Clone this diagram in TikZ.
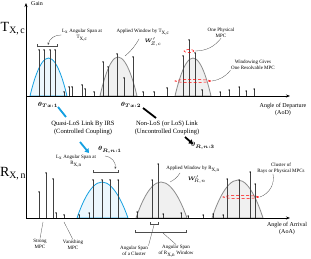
\documentclass[tikz,border=0pt]{standalone}
\usepackage{fontspec}
\setmainfont{Liberation Serif}
\usepackage{amsmath,bm}
\usetikzlibrary{arrows.meta}
\definecolor{irsblue}{RGB}{20,160,225}

\begin{document}
\begin{tikzpicture}[x=1pt, y=-1pt,
      axis/.style={-{Stealth[length=4pt,width=3pt]}, line width=0.8pt},
      bluewin/.style={draw=irsblue, line width=0.8pt, fill=irsblue!8},
      graywin/.style={draw=black!45, line width=0.8pt, fill=black!6},
      mpc/.style={draw=black!75, line width=0.6pt},
      span/.style={{Bar[width=3pt]}-{Bar[width=3pt]}, line width=0.4pt, black!70},
      resolv/.style={red, densely dashed, line width=0.5pt},
      note/.style={line width=0.3pt, black!70},
      notearr/.style={note, -{Stealth[length=2.5pt,width=2pt]}},
      link/.style={line width=1.8pt},
      linkarr/.style={link, -{Triangle[length=4pt,width=5pt]}},
      tiny/.style={font=\fontsize{5}{5.8}\selectfont, align=center, inner sep=0.5pt},
      mid/.style={font=\fontsize{6.5}{7.8}\selectfont, align=center, inner sep=0.5pt},
      axlbl/.style={font=\fontsize{6}{7}\selectfont, align=center, inner sep=0.5pt},
      big/.style={font=\fontsize{14}{14}\selectfont, inner sep=0pt}
    ]
    \useasboundingbox (0,0) rectangle (311,259);

    % Windows (filled parabolas), drawn first so stems sit on top.
    \path[bluewin] (30,96)  parabola bend (48.5,58) (67,96)  -- cycle;
    \path[graywin] (100,96) parabola bend (118,57)  (137,96) -- cycle;
    \path[graywin] (175,96) parabola bend (193,58)  (211,96) -- cycle;
    \path[bluewin] (77,218)  parabola bend (102,182) (128,218) -- cycle;
    \path[graywin] (136,218) parabola bend (161,182) (187,218) -- cycle;
    \path[graywin] (212,218) parabola bend (238,180) (263,218) -- cycle;

    % MPC stems at Tx and Rx.
    \foreach \x/\t in {39/50, 44/50, 50/50, 55/50, 64/92, 69/87, 72/87, 82/85,
        85/89, 94/92, 103/62, 108/67, 117/54, 124/78, 133/57, 143/92, 154/92,
        167/88, 183/56, 189/40, 195/53, 202/90, 220/92, 229/90, 239/87,
        246/91, 254/89} {
      \draw[mpc] (\x,96) -- (\x,\t);
      \fill (\x,\t) circle (0.75pt);
    }
    \foreach \x/\t in {39/192, 46/173, 53/179, 56/213, 64/215, 79/215, 89/213,
        93/180, 102/180, 110/180, 118/180, 137/212, 152/180, 158/164, 163/214,
        181/213, 188/216, 203/215, 213/214, 223/215, 227/179, 239/180,
        250/172, 255/184} {
      \draw[mpc] (\x,218) -- (\x,\t);
      \fill (\x,\t) circle (0.75pt);
    }

    % Resolvable MPC marks.
    \draw[resolv] (189,51) ellipse (5pt and 1.5pt);
    \draw[resolv] (193,81) ellipse (18pt and 1.5pt);
    \draw[resolv] (241,197) ellipse (18pt and 1.5pt);

    % Axes.
    \coordinate (O)  at (26,218);
    \coordinate (Gt) at (26,3);
    \coordinate (Tz) at (26,96);
    \coordinate (Te) at (290,96);
    \coordinate (Re) at (290,218);
    \draw[axis] (O) -- (Gt);
    \draw[axis] (Tz) -- (Te);
    \draw[axis] (O) -- (Re);
    \node[axlbl] (gain) at (37,4) {Gain};
    \node[axlbl] (aod) at (283,110) {Angle of Departure\\(AoD)};
    \node[axlbl] (aoa) at (287,229) {Angle of Arrival\\(AoA)};
    \node[big] (tx) at (13,29) {T\textsubscript{X,\,c}};
    \node[big] (rx) at (13,174) {R\textsubscript{X,\,n}};

    % Tx side notes.
    \coordinate (bTl) at (37,46);
    \coordinate (bTr) at (57,46);
    \draw[span] (bTl) -- (bTr);
    \node[tiny] (spanT) at (82,35) {L\textsubscript{x} Angular Span at\\T\textsubscript{X,c}};
    \coordinate (bTc) at (48,45);
    \draw[notearr] (spanT.west) to[bend right=40] (bTc);

    \node[tiny] (winT) at (143,32) {Applied Window by T\textsubscript{X,c}};
    \node[tiny] (wT) at (153,42) {$\bm{W}'_{\!Z,c}$};
    \coordinate (pkT) at (125,56);
    \draw[note] (139,39) to[bend left=10] (pkT);

    \node[tiny] (phys) at (221,33) {One Physical\\MPC};
    \coordinate (ellT) at (195,51);
    \draw[note] (phys.south) to[bend left=25] (ellT);

    \node[tiny] (winres) at (253,65) {Windowing Gives\\One Resolvable MPC};
    \coordinate (resT) at (212,81);
    \draw[note] (winres.south west) to[bend left=20] (resT);

    % Coupling links between Tx and Rx.
    \node[mid] (thT1) at (48,105) {$\bm{\theta}_{\bm{Tx:1}}$};
    \node[mid] (thT2) at (131,105) {$\bm{\theta}_{\bm{Tx:2}}$};
    \node[mid] (thR1) at (110,150) {$\bm{\theta}_{\bm{R,n:1}}$};
    \node[mid] (thR3) at (203,146) {$\bm{\theta}_{\bm{R,n:3}}$};
    \coordinate (q1) at (58,107);
    \coordinate (q2) at (66,117);
    \coordinate (q3) at (80,142);
    \coordinate (q4) at (89,153);
    \draw[link, irsblue] (q1) -- (q2);
    \draw[linkarr, irsblue] (q3) -- (q4);
    \coordinate (n1) at (143,108);
    \coordinate (n2) at (156,118);
    \coordinate (n3) at (185,137);
    \coordinate (n4) at (193,144);
    \draw[link] (n1) -- (n2);
    \draw[linkarr] (n3) -- (n4);
    \node[mid] (quasi) at (83,128) {Quasi-LoS Link By IRS\\(Controlled Coupling)};
    \node[mid] (nlos) at (167,128) {Non-LoS (or LoS) Link\\(Uncontrolled Coupling)};

    % Rx side notes.
    \node[tiny] (spanR) at (76,161) {L\textsubscript{x} Angular Span at\\R\textsubscript{X,n}};
    \coordinate (bRl) at (93,172);
    \coordinate (bRr) at (118,172);
    \draw[span] (bRl) -- (bRr);
    \coordinate (bRc) at (115,169);
    \draw[notearr] (105,156) to[bend left=50] (bRc);

    \node[tiny] (winR) at (193,169) {Applied Window by R\textsubscript{X,n}};
    \node[tiny] (wR) at (197,179.5) {$\bm{W}'_{\!R,n}$};
    \coordinate (pkR) at (170,182);
    \draw[note] (180,173) to[bend left=15] (pkR);

    \node[tiny] (clus) at (281,168) {Cluster of\\Rays or Physical MPCs};
    \coordinate (resR) at (260,197);
    \draw[note] (273,174) to[bend left=40] (resR);

    \node[tiny] (strong) at (40,244) {Strong\\MPC};
    \draw[note] (43,222) -- (strong.north);
    \node[tiny] (vanish) at (73,245) {Vanishing\\MPC};
    \draw[note] (64,222) -- (vanish.north);

    \coordinate (cl1) at (150,224);
    \coordinate (cl2) at (158,224);
    \draw[span] (cl1) -- (cl2);
    \coordinate (ws1) at (135,232);
    \coordinate (ws2) at (186,232);
    \draw[span] (ws1) -- (ws2);
    \node[tiny] (spanC) at (134,251) {Angular Span\\of a Cluster};
    \draw[note] (154,225) -- (spanC.north east);
    \node[tiny] (spanW) at (176,251) {Angular Span\\of R\textsubscript{X,n} Window};
    \draw[note] (163,233) -- (spanW.north);
  \end{tikzpicture}
\end{document}
